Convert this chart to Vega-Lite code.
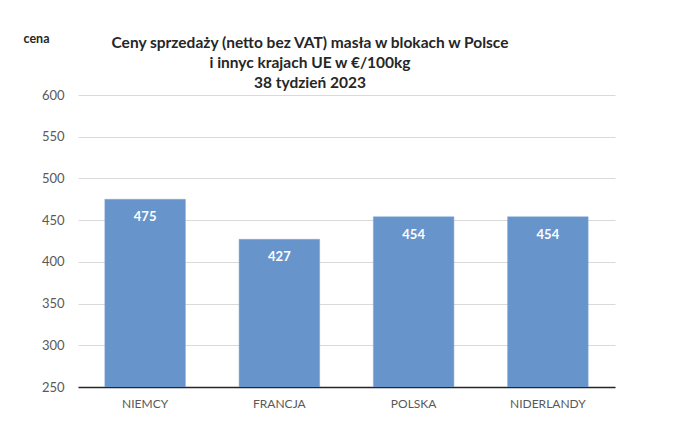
{
  "$schema": "https://vega.github.io/schema/vega-lite/v6.json",
  "autosize": "none",
  "width": 537,
  "height": 292,
  "padding": {"left": 78, "top": 95, "right": 85, "bottom": 43},
  "background": "white",
  "data": {"values": [
    {"kraj": "NIEMCY", "cena": 475},
    {"kraj": "FRANCJA", "cena": 427},
    {"kraj": "POLSKA", "cena": 454},
    {"kraj": "NIDERLANDY", "cena": 454}
  ]},
  "title": {
    "text": ["Ceny sprzedaży (netto bez VAT) masła w blokach w Polsce", "i  innyc krajach UE w €/100kg", "38 tydzień 2023"],
    "anchor": "start",
    "align": "center",
    "dx": 287,
    "offset": -59,
    "font": "Lato",
    "fontSize": 15.5,
    "fontWeight": "bold",
    "lineHeight": 20,
    "color": "#262626"
  },
  "encoding": {
    "x": {
      "field": "kraj", "type": "nominal", "sort": null,
      "scale": {"paddingInner": 0.4, "paddingOuter": 0.2},
      "axis": {
        "title": null, "labelAngle": 0, "ticks": false,
        "domainColor": "#262626", "domainWidth": 1.5,
        "labelColor": "#595959", "labelFont": "Lato", "labelFontSize": 12,
        "labelPadding": 11
      }
    },
    "y": {
      "field": "cena", "type": "quantitative",
      "scale": {"domain": [250, 600], "zero": false, "nice": false},
      "axis": {
        "values": [250, 300, 350, 400, 450, 500, 550, 600],
        "domain": false, "ticks": false,
        "gridColor": "#d9d9d9", "gridWidth": 1,
        "labelColor": "#595959", "labelFont": "Lato", "labelFontSize": 13,
        "labelPadding": 14,
        "title": "cena", "titleAngle": 0, "titleX": -55, "titleY": -57,
        "titleAlign": "left", "titleBaseline": "middle",
        "titleFont": "Lato", "titleFontSize": 12.5, "titleFontWeight": "bold",
        "titleColor": "#262626"
      }
    }
  },
  "layer": [
    {"mark": {"type": "bar", "clip": true, "color": "#6794cb", "stroke": "#7fa6d6", "strokeWidth": 0.5}},
    {
      "mark": {"type": "text", "color": "white", "font": "Lato", "fontSize": 13, "fontWeight": "bold", "dy": 18, "baseline": "middle"},
      "encoding": {"text": {"field": "cena", "type": "quantitative"}}
    }
  ],
  "config": {"view": {"stroke": null}}
}
